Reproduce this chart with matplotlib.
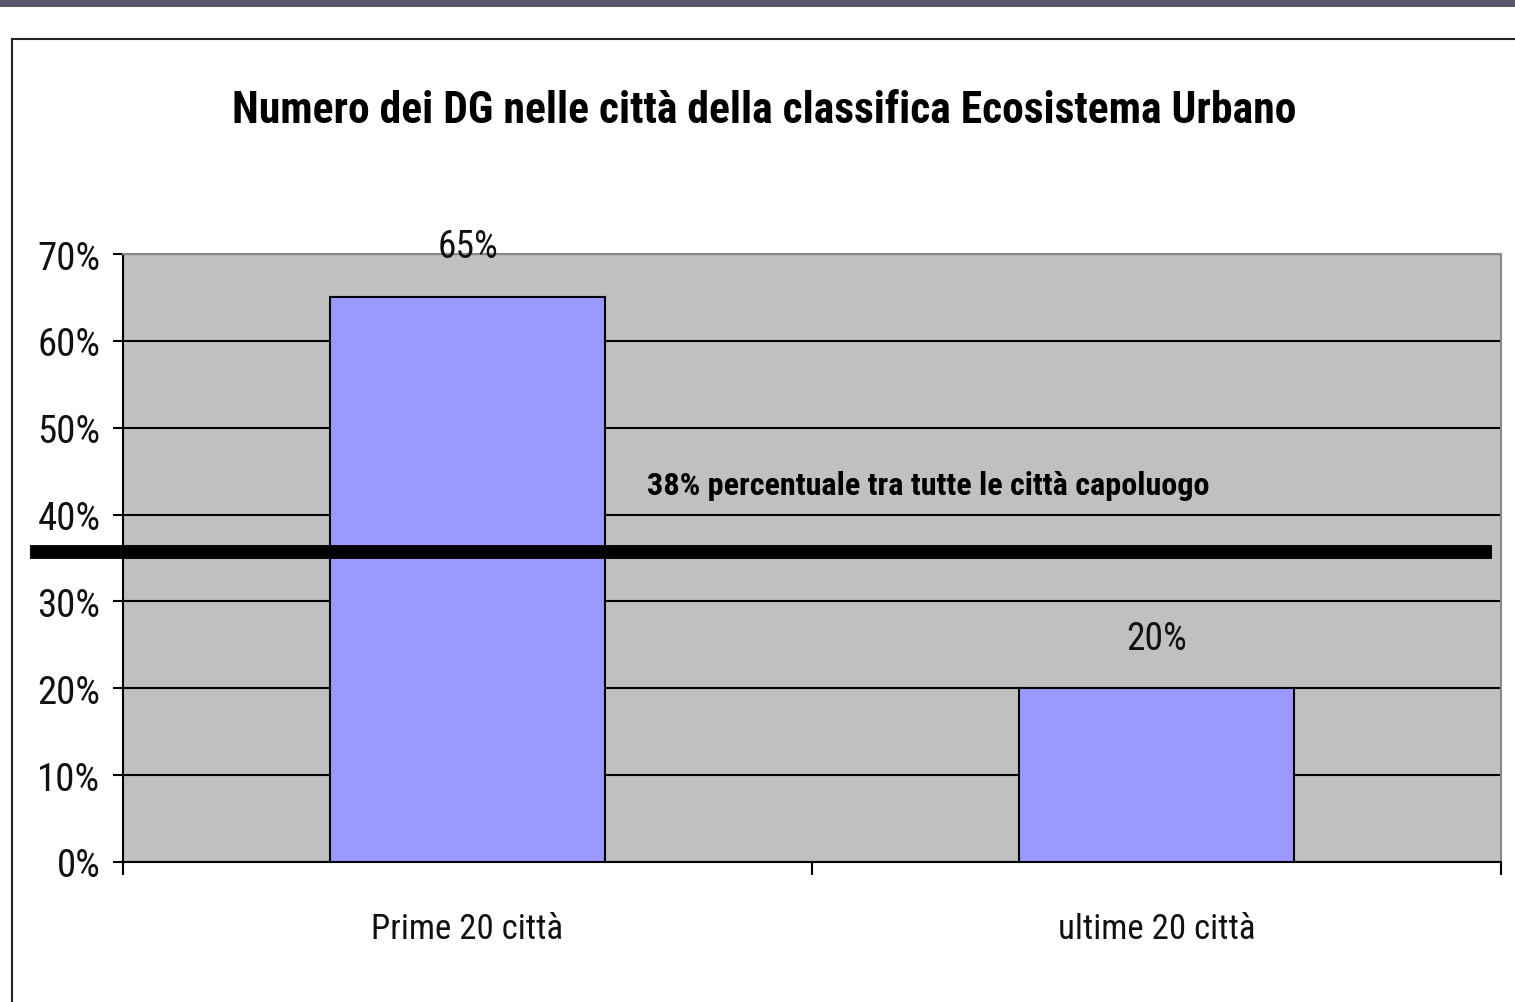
import matplotlib
matplotlib.use("Agg")
import matplotlib.pyplot as plt
from matplotlib.patches import Rectangle
from matplotlib.lines import Line2D
from matplotlib.ticker import FuncFormatter

plt.rcParams['font.family'] = ['Roboto Condensed', 'Liberation Sans', 'DejaVu Sans']

# data
categories = ["Prime 20 città", "ultime 20 città"]
values = [65, 20]
bar_labels = ["65%", "20%"]
reference_value = 35.7  # where the thick line sits in the picture
reference_text = "38% percentuale tra tutte le città capoluogo"
y_ticks = [0, 10, 20, 30, 40, 50, 60, 70]
title = "Numero dei DG nelle città della classifica Ecosistema Urbano"

W, H = 1515, 1003
fig = plt.figure(figsize=(W / 100, H / 100), dpi=100)
fig.patch.set_facecolor("white")

# dark strip at the top and the chart frame
fig.add_artist(Rectangle((0, 1 - 8 / H), 1, 8 / H, transform=fig.transFigure,
                         facecolor="#585868", edgecolor="none"))
fig.add_artist(Line2D([12 / W, 12 / W], [0, 1 - 40 / H], transform=fig.transFigure,
                      color="#222222", linewidth=1.5))
fig.add_artist(Line2D([12 / W, 1], [1 - 40 / H, 1 - 40 / H], transform=fig.transFigure,
                      color="#222222", linewidth=1.5))

ax = fig.add_axes([123 / W, 140 / H, 1378 / W, 608 / H])
ax.set_facecolor("#C0C0C0")

x = list(range(len(categories)))
ax.bar(x, values, width=0.4, color="#9999FF", edgecolor="black", linewidth=1.5, zorder=3)

ax.set_xlim(-0.5, 1.5)
ax.set_ylim(0, 70)
ax.set_yticks(y_ticks)
ax.yaxis.set_major_formatter(FuncFormatter(lambda v, p: f"{v:.0f}%"))
ax.grid(axis="y", color="black", linewidth=1.5, zorder=1)
ax.set_axisbelow(True)

ax.set_xticks([-0.5, 0.5, 1.5])
ax.set_xticklabels([])
ax.tick_params(axis="x", direction="out", length=9.4, width=1.5, color="black")
ax.tick_params(axis="y", direction="out", length=7.2, width=1.5, color="black",
               labelsize=28, pad=9)
for lbl in ax.get_yticklabels():
    lbl.set_color("#111111")

for i, c in enumerate(categories):
    ax.text(i, -7.7, c, ha="center", va="center", fontsize=25, color="#111111")

for spine in ["left", "bottom"]:
    ax.spines[spine].set_color("black")
    ax.spines[spine].set_linewidth(1.5)
for spine in ["top", "right"]:
    ax.spines[spine].set_color("#888888")
    ax.spines[spine].set_linewidth(1.5)

# value labels above bars
label_y = [70.9, 25.7]
for i, (t, ly) in enumerate(zip(bar_labels, label_y)):
    ax.text(i, ly, t, ha="center", va="center", fontsize=27, color="#111111", zorder=5)

# thick reference line across the chart
ax.plot([-0.635, 1.487], [reference_value, reference_value], color="black",
        linewidth=10, solid_capstyle="butt", clip_on=False, zorder=4)
ax.text(0.26, 43.4, reference_text, ha="left", va="center", fontsize=23.2,
        fontweight="bold", color="black", zorder=5)

fig.text(764 / W, 1 - 111 / H, title, ha="center", va="center", fontsize=31.4,
         fontweight="bold", color="black")

fig.savefig("out.png", dpi=100)
